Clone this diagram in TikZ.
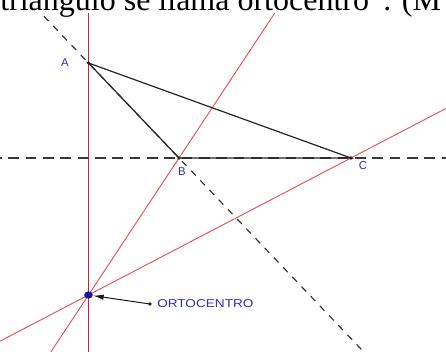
\documentclass[tikz,border=0pt]{standalone}
\usepackage{fontspec}
\setmainfont{Liberation Serif}
\newfontfamily\lblfont{Liberation Sans}
\usetikzlibrary{calc,arrows.meta,shapes.geometric}
\definecolor{lblblue}{RGB}{45,45,185}
\definecolor{hblue}{RGB}{20,20,170}
\definecolor{altred}{RGB}{205,30,50}
\definecolor{altpink}{RGB}{232,80,85}
\definecolor{dashgray}{RGB}{55,55,55}
\begin{document}
\begin{tikzpicture}[x=0.75pt,y=-0.75pt,
  dashline/.style={draw=dashgray,line width=1pt,dash pattern=on 8pt off 5pt},
  dashdiag/.style={draw=dashgray,line width=0.9pt,dash pattern=on 5pt off 5pt},
  altmain/.style={draw=altred,line width=1pt},
  altsec/.style={draw=altpink,line width=0.7pt},
  side/.style={draw=black!85,line width=0.9pt},
  vdot/.style={fill=black!85},
  lbl/.style={text=lblblue,font=\lblfont\fontsize{8.5pt}{10pt}\selectfont,inner sep=0pt},
  hdot/.style={ellipse,fill=hblue,draw=none,minimum width=6.5pt,minimum height=5.5pt,inner sep=0pt},
  pointer/.style={draw=black!90,line width=0.75pt,-{Latex[length=8pt,width=4pt]}}]
\useasboundingbox (0,0) rectangle (446,351);
\clip (0,0) rectangle (446,351);
\node[anchor=base west,inner sep=0pt,font=\fontsize{24pt}{28pt}\selectfont] (title) at (0,10) {triángulo se llama ortocentro”. (M};

\coordinate (A) at (88.5,63);
\coordinate (B) at (179,158);
\coordinate (C) at (351,158);
\coordinate (H) at (88.5,295);
\coordinate (T) at (150,304);

\begin{scope}
  \clip (0,13) rectangle (446,351);
  \draw[dashline] ($(B)!-2!(C)$) -- ($(B)!3!(C)$);
  \draw[dashdiag] ($(A)!-1!(B)$) -- ($(A)!4!(B)$);
  \draw[altsec] ($(H)!-1!(B)$) -- ($(H)!3!(B)$);
  \draw[altsec] ($(H)!-1!(C)$) -- ($(H)!3!(C)$);
  \draw[altmain] ($(H)!-0.5!(A)$) -- ($(H)!1.5!(A)$);
\end{scope}

\draw[side] (A) -- (B) -- (C) -- cycle;
\fill[vdot] (A) circle (1.8);
\fill[vdot] (B) circle (1.8);
\fill[vdot] (C) circle (1.8);

\node[hdot] (Hn) at (H) {};
\fill[black!85] (T) circle (1.8);
\draw[pointer] (T) -- (Hn);

\node[lbl] (lA) at (65,63) {A};
\node[lbl] (lB) at (182,172) {B};
\node[lbl] (lC) at (363,165.5) {C};
\node[lbl,anchor=west] (lH) at (157,303.5) {\scalebox{1.2}[1]{ORTOCENTRO}};
\end{tikzpicture}
\end{document}
